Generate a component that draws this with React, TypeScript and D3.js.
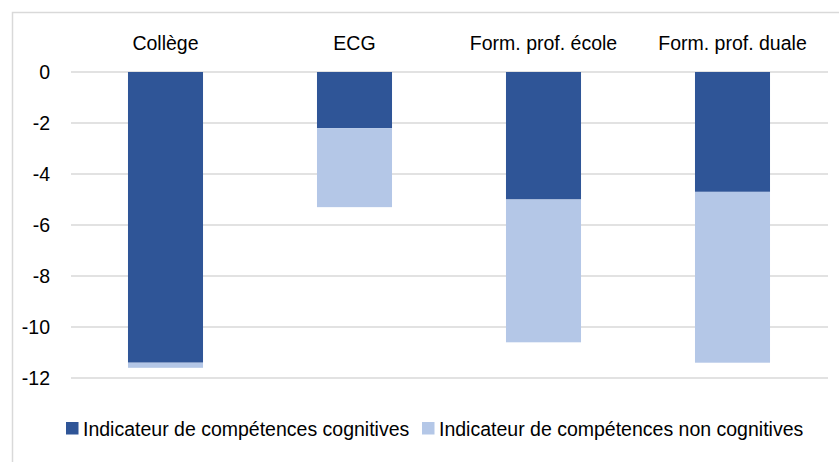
import { useEffect, useRef } from 'react';
import * as d3 from 'd3';

const categories = ['Collège', 'ECG', 'Form. prof. école', 'Form. prof. duale'];
const cognitive = [-11.4, -2.2, -5.0, -4.7];
const nonCognitive = [-0.2, -3.1, -5.6, -6.7];
const yTicks = [0, -2, -4, -6, -8, -10, -12];
const seriesNames = ['Indicateur de compétences cognitives', 'Indicateur de compétences non cognitives'];
const colors = ['#2F5597', '#B4C7E7'];

export default function App() {
  const ref = useRef<SVGSVGElement>(null);
  useEffect(() => {
    if (!ref.current) return;
    const svg = d3.select(ref.current);
    svg.selectAll('*').remove();
    const W = 839, H = 462;
    const font = '"Liberation Sans", Arial, sans-serif';
    const fs = '19.5px';

    // outer frame (open at right and bottom, cropped)
    svg.append('path').attr('d', `M12.5,${H} V12.5 H${W}`)
      .attr('fill', 'none').attr('stroke', '#d9d9d9').attr('stroke-width', 1.5);

    const x = d3.scaleBand().domain(categories).range([71, 827]).paddingInner(0.603).paddingOuter(0.3015);
    const y = d3.scaleLinear().domain([-12, 0]).range([378, 72]);

    svg.append('g').selectAll('line').data(yTicks).enter().append('line')
      .attr('x1', 71).attr('x2', 828).attr('y1', d => y(d)).attr('y2', d => y(d))
      .attr('stroke', '#d9d9d9').attr('stroke-width', 1.5);

    svg.append('g').selectAll('text').data(yTicks).enter().append('text')
      .attr('x', 50).attr('y', d => y(d)).attr('dy', '0.36em').attr('text-anchor', 'end')
      .style('font-family', font).style('font-size', fs).style('fill', '#000')
      .text(d => d === 0 ? '0' : `-${Math.abs(d)}`);

    const stacked = categories.map((c, i) => ({ c, a: cognitive[i], b: nonCognitive[i] }));
    svg.append('g').selectAll('rect').data(stacked).enter().append('rect')
      .attr('x', d => x(d.c)!).attr('width', x.bandwidth())
      .attr('y', y(0)).attr('height', d => y(d.a) - y(0)).attr('fill', colors[0]);
    svg.append('g').selectAll('rect').data(stacked).enter().append('rect')
      .attr('x', d => x(d.c)!).attr('width', x.bandwidth())
      .attr('y', d => y(d.a)).attr('height', d => y(d.a + d.b) - y(d.a)).attr('fill', colors[1]);

    svg.append('g').selectAll('text').data(categories).enter().append('text')
      .attr('x', d => x(d)! + x.bandwidth() / 2).attr('y', 50).attr('text-anchor', 'middle')
      .style('font-family', font).style('font-size', fs).style('fill', '#000')
      .text(d => d);

    const legendX = [66, 422];
    const lg = svg.append('g');
    seriesNames.forEach((name, i) => {
      lg.append('rect').attr('x', legendX[i]).attr('y', 422).attr('width', 12.5).attr('height', 12.5).attr('fill', colors[i]);
      lg.append('text').attr('x', legendX[i] + 17).attr('y', 436)
        .style('font-family', font).style('font-size', fs).style('fill', '#000').text(name);
    });
  }, []);
  return (
    <svg ref={ref} width={839} height={462}
      style={{ position: 'absolute', left: 0, top: 0, background: '#fff' }} />
  );
}
